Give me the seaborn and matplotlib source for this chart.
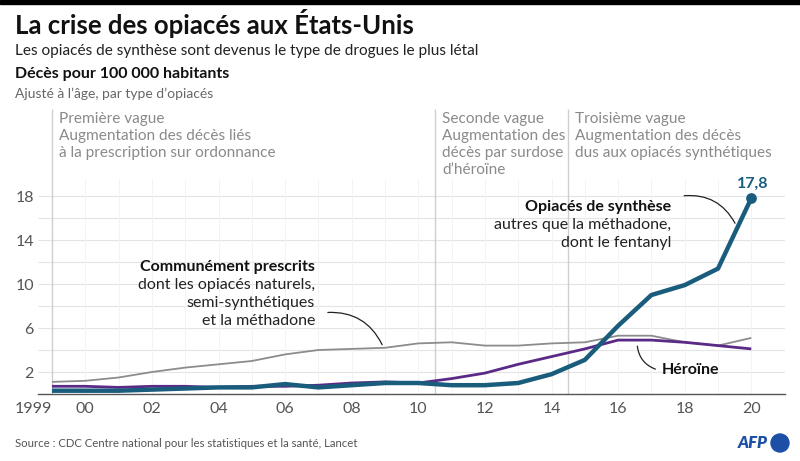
import numpy as np
import pandas as pd
import matplotlib.pyplot as plt
import matplotlib.patches as mpatches
import seaborn as sns

# data
years = list(range(1999, 2021))
prescrits = [1.1, 1.2, 1.5, 2.0, 2.4, 2.7, 3.0, 3.6, 4.0, 4.1, 4.2, 4.6, 4.7, 4.4, 4.4, 4.6, 4.7, 5.3, 5.3, 4.7, 4.4, 5.1]
heroine = [0.7, 0.7, 0.6, 0.7, 0.7, 0.6, 0.7, 0.7, 0.8, 1.0, 1.1, 1.0, 1.4, 1.9, 2.7, 3.4, 4.1, 4.9, 4.9, 4.7, 4.4, 4.1]
synthese = [0.3, 0.3, 0.3, 0.4, 0.5, 0.6, 0.6, 0.9, 0.6, 0.8, 1.0, 1.0, 0.8, 0.8, 1.0, 1.8, 3.1, 6.2, 9.0, 9.9, 11.4, 17.8]

tick_years = [1999, 2000, 2002, 2004, 2006, 2008, 2010, 2012, 2014, 2016, 2018, 2020]
tick_labels = ['1999', '00', '02', '04', '06', '08', '10', '12', '14', '16', '18', '20']
y_grid = [2, 4, 6, 8, 10, 12, 14, 16, 18]
y_labels = [2, 6, 10, 14, 18]

waves = [1999, 2010.5, 2014.5]
wave_texts = ['Première vague\nAugmentation des décès liés\nà la prescription sur ordonnance',
              'Seconde vague\nAugmentation des\ndécès par surdose\nd\u2019héroïne',
              'Troisième vague\nAugmentation des décès\ndus aux opiacés synthétiques']

df = pd.DataFrame({
    'annee': years * 3,
    'valeur': prescrits + heroine + synthese,
    'type': ['prescrits'] * len(years) + ['heroine'] * len(years) + ['synthese'] * len(years),
})

BLUE = '#1a5c7c'
PURPLE = '#5b2a86'
GREY = '#8c8c8c'

sns.set_style('white')
plt.rcParams['font.family'] = ['Lato', 'DejaVu Sans']

fig = plt.figure(figsize=(8, 4.61), dpi=100)
ax = fig.add_axes([38 / 800, 1 - 394 / 461, (785 - 38) / 800, (394 - 100) / 461])

x0 = 1999 - 14 / 33.3
x1 = 1999 + 733 / 33.3
ytop = (394 - 100) / 11
ax.set_xlim(x0, x1)
ax.set_ylim(0, ytop)

# grid
for y in y_grid:
    ax.hlines(y, x0, x1, color='#e4e4e4', lw=0.8, zorder=0)
for yr in years:
    ax.vlines(yr, 0, 19.5, color='#f3f3f3', lw=0.7, zorder=0)

# wave separators
for xw, txt in zip(waves, wave_texts):
    ax.vlines(xw, 0, 25.9, color='#cfcfcf', lw=1.0, zorder=1)
    ax.text(xw + 0.22, 25.6, txt, ha='left', va='top', fontsize=11.1,
            color='#8a8a8a', linespacing=1.25)

sns.lineplot(data=df, x='annee', y='valeur', hue='type', size='type',
             hue_order=['prescrits', 'heroine', 'synthese'],
             palette={'prescrits': GREY, 'heroine': PURPLE, 'synthese': BLUE},
             sizes={'prescrits': 1.3, 'heroine': 2.0, 'synthese': 3.2},
             legend=False, ax=ax, zorder=3)
for ln in ax.get_lines():
    ln.set_solid_capstyle('butt')

ax.scatter([years[-1]], [synthese[-1]], s=45, color=BLUE, zorder=4)
ax.text(years[-1] + 0.05, synthese[-1] + 1.3, '17,8', ha='center', va='center',
        fontsize=11.5, fontweight='bold', color=BLUE)

# axes styling
for s in ['top', 'right', 'left']:
    ax.spines[s].set_visible(False)
ax.spines['bottom'].set_color('#555555')
ax.spines['bottom'].set_linewidth(1.0)
ax.set_xticks(tick_years)
ax.set_xticklabels(tick_labels)
ax.set_yticks(y_labels)
ax.set_yticklabels([str(v) for v in y_labels])
ax.tick_params(axis='both', length=0, labelsize=11.5, labelcolor='#555555')
ax.tick_params(axis='x', pad=6)
ax.tick_params(axis='y', pad=3)
ax.get_xticklabels()[0].set_horizontalalignment('right')
ax.set_xlabel('')
ax.set_ylabel('')

# annotations
def label_block(x, y, title, rest, ha):
    ax.text(x, y, title, ha=ha, va='center', fontsize=11.5, fontweight='bold', color='#111111')
    for i, line in enumerate(rest):
        ax.text(x, y - (i + 1) * 1.64, line, ha=ha, va='center', fontsize=11.5, color='#222222')

label_block(2006.9, 11.55, 'Communément prescrits',
            ['dont les opiacés naturels,', 'semi-synthétiques', 'et la méthadone'], 'right')
label_block(2017.6, 17.0, 'Opiacés de synthèse',
            ['autres que la méthadone,', 'dont le fentanyl'], 'right')
ax.text(2017.3, 2.18, 'Héroïne', ha='left', va='center', fontsize=11.5,
        fontweight='bold', color='#111111')

arrow = dict(arrowstyle='-', color='#222222', lw=0.9)
ax.annotate('', xy=(2008.95, 4.25), xytext=(2007.2, 7.4),
            arrowprops=dict(arrow, connectionstyle='arc3,rad=-0.35'))
ax.annotate('', xy=(2019.55, 15.3), xytext=(2017.9, 18.0),
            arrowprops=dict(arrow, connectionstyle='arc3,rad=-0.35'))
ax.annotate('', xy=(2017.2, 2.18), xytext=(2016.57, 4.6),
            arrowprops=dict(arrow, connectionstyle='arc3,rad=0.35'))

# header
fig.patches.append(mpatches.Rectangle((0, 1 - 4 / 461), 1, 4 / 461, transform=fig.transFigure,
                                      color='black', zorder=5))
fig.text(15 / 800, 1 - 33.5 / 461, 'La crise des opiacés aux États-Unis', fontsize=18.5,
         fontweight='bold', color='#111111', va='baseline')
fig.text(15 / 800, 1 - 54.5 / 461, 'Les opiacés de synthèse sont devenus le type de drogues le plus létal',
         fontsize=11.1, color='#222222', va='baseline')
fig.text(15 / 800, 1 - 78 / 461, 'Décès pour 100 000 habitants', fontsize=11.5,
         fontweight='bold', color='#111111', va='baseline')
fig.text(15 / 800, 1 - 98 / 461, 'Ajusté à l\u2019âge, par type d\u2019opiacés', fontsize=10,
         color='#666666', va='baseline')

# footer
fig.text(15 / 800, 1 - 443 / 461, 'Source : CDC Centre national pour les statistiques et la santé, Lancet',
         fontsize=8.2, color='#555555', va='center')
fig.text(768 / 800, 1 - 443 / 461, 'AFP', fontsize=12, fontweight='heavy', style='italic',
         color='#1d4fa6', va='center', ha='right')
fig.patches.append(mpatches.Ellipse((780 / 800, 1 - 443 / 461), 18 / 800, 18 / 461,
                                    transform=fig.transFigure, color='#1d4fa6'))

fig.savefig('out.png', dpi=100)
